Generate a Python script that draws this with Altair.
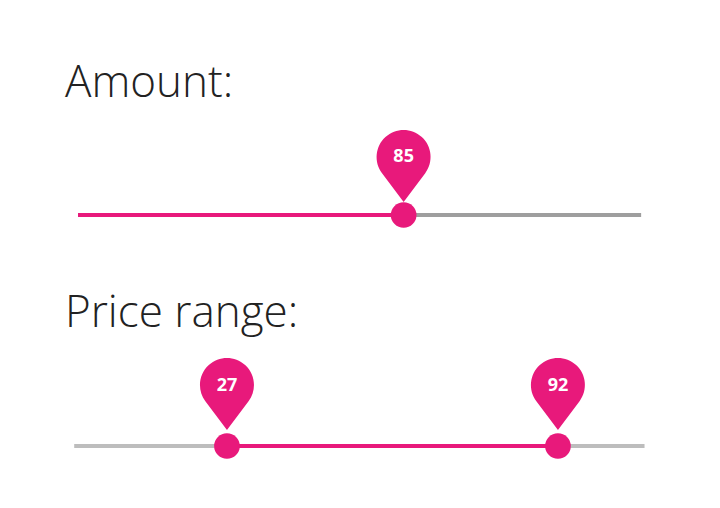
import altair as alt
import pandas as pd

# slider values
amount = 85
amount_min, amount_max = 0, 147
price_low, price_high = 27, 92
price_min, price_max = -3, 109

PINK = "#e8197b"
PIN = "M0,1 L-0.6,0.2 A0.75,0.75 0 1 1 0.6,0.2 Z"

yscale = alt.Scale(domain=[8, 500], reverse=True)
noaxis = None


def slider(domain, track_df, active_df, thumbs_df, track_colour, track_y, pin_y):
    xs = alt.Scale(domain=domain)
    base_y = alt.Y("y:Q", scale=yscale, axis=noaxis)
    track = alt.Chart(track_df).mark_rule(strokeWidth=4, color=track_colour).encode(
        x=alt.X("a:Q", scale=xs, axis=noaxis), x2="b:Q", y=base_y)
    active = alt.Chart(active_df).mark_rule(strokeWidth=4, color=PINK).encode(
        x=alt.X("a:Q", scale=xs, axis=noaxis), x2="b:Q", y=base_y)
    thumb = alt.Chart(thumbs_df).mark_circle(size=660, color=PINK, opacity=1).encode(
        x=alt.X("v:Q", scale=xs, axis=noaxis), y=alt.Y("ty:Q", scale=yscale, axis=noaxis))
    pin = alt.Chart(thumbs_df).mark_point(shape=PIN, size=5184, filled=True, color=PINK, opacity=1).encode(
        x=alt.X("v:Q", scale=xs, axis=noaxis), y=alt.Y("py:Q", scale=yscale, axis=noaxis))
    label = alt.Chart(thumbs_df).mark_text(color="white", fontSize=18, fontWeight="bold",
                                           font="Open Sans", baseline="middle").encode(
        x=alt.X("v:Q", scale=xs, axis=noaxis), y=alt.Y("ly:Q", scale=yscale, axis=noaxis), text="v:Q")
    return alt.layer(track, active, pin, thumb, label)


s1 = slider(
    [-18.28, 165.5],
    pd.DataFrame({"a": [amount_min], "b": [amount_max], "y": [215]}),
    pd.DataFrame({"a": [amount_min], "b": [amount], "y": [215]}),
    pd.DataFrame({"v": [amount], "ty": [215], "py": [166], "ly": [157]}),
    "#9e9e9e", 215, 166)

s2 = slider(
    [-16.0, 122.25],
    pd.DataFrame({"a": [price_min], "b": [price_max], "y": [446]}),
    pd.DataFrame({"a": [price_low], "b": [price_high], "y": [446]}),
    pd.DataFrame({"v": [price_low, price_high], "ty": [446, 446], "py": [394, 394], "ly": [386, 386]}),
    "#bdbdbd", 446, 394)

titles = alt.Chart(pd.DataFrame({"t": ["Amount:"]})).mark_text(
    fontSize=44, font="Open Sans", fontWeight=300, color="#222", align="left", baseline="alphabetic"
).encode(x=alt.value(57), y=alt.value(89), text="t:N")
titles2 = alt.Chart(pd.DataFrame({"t": ["Price range:"]})).mark_text(
    fontSize=44, font="Open Sans", fontWeight=300, color="#222", align="left", baseline="alphabetic"
).encode(x=alt.value(57), y=alt.value(319), text="t:N")

chart = alt.layer(titles, titles2, s1, s2).resolve_scale(x="independent").properties(
    width=704, height=492, padding=0, autosize=alt.AutoSizeParams(type="none")
).configure_view(stroke=None)

chart.save("out.html", embed_options={"renderer": "svg", "actions": False})
